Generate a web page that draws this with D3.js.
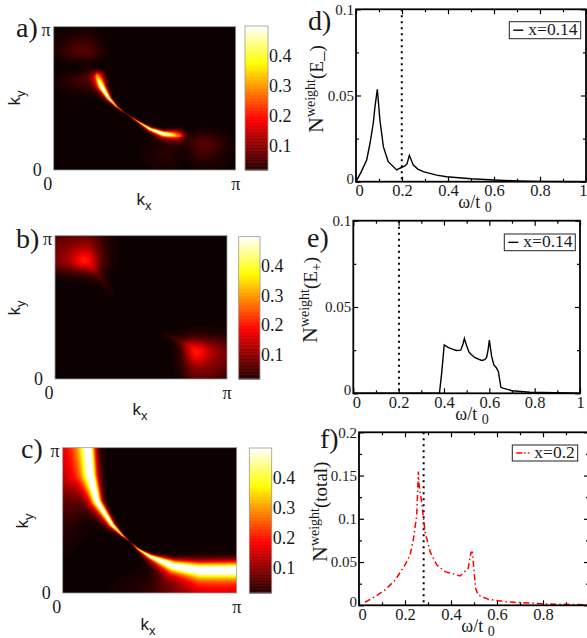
<!DOCTYPE html>
<html>
<head>
<meta charset="utf-8">
<script src="https://d3js.org/d3.v7.min.js"></script>
<style>
    html, body { margin: 0; padding: 0; background: #fff; overflow: hidden; }
    text { font-family: "Liberation Serif", serif; fill: #1a1a1a; }
    .sans { font-family: "Liberation Sans", sans-serif; }
</style>
</head>
<body>
<svg id="chart" width="587" height="638">
    <defs>
        <filter id="soft" x="0" y="0" width="1" height="1"><feGaussianBlur stdDeviation="0.55"/></filter>
    </defs>
</svg>
<script>
// panel a, bright arc (k in units of pi)
var aRidgeKx = [0.236, 0.258, 0.30, 0.346, 0.401, 0.456, 0.529, 0.602, 0.676];
var aRidgeKy = [0.651, 0.581, 0.50, 0.442, 0.391, 0.344, 0.284, 0.249, 0.237];
var aRidgePeak = [0.30, 0.56, 0.54, 0.34, 0.12, 0.34, 0.52, 0.58, 0.30];
var aRidgeOuter = [0.022, 0.016, 0.009, 0.004, 0.0015, 0.004, 0.009, 0.016, 0.024];
var aRidgeInner = [0.024, 0.018, 0.010, 0.004, 0.0015, 0.004, 0.010, 0.016, 0.026];
// panel a, faint patches
var aLobeKx = [0.172, 0.82, 0.16, 0.62];
var aLobeKy = [0.826, 0.188, 0.63, 0.12];
var aLobePeak = [0.055, 0.055, 0.035, 0.022];
var aLobeLeft = [0.10, 0.05, 0.08, 0.08];
var aLobeRight = [0.06, 0.08, 0.06, 0.04];
var aLobeDown = [0.04, 0.09, 0.06, 0.07];
var aLobeUp = [0.08, 0.05, 0.035, 0.05];

// panel b has only two red patches and their tails
var bRidgeKx = [0.22, 0.33];
var bRidgeKy = [0.76, 0.60];
var bRidgePeak = [0.06, 0.008];
var bRidgeOuter = [0.03, 0.015];
var bRidgeInner = [0.03, 0.015];
var bRidge2Kx = [0.77, 0.62];
var bRidge2Ky = [0.25, 0.33];
var bRidge2Peak = [0.06, 0.008];
var bRidge2Outer = [0.03, 0.015];
var bRidge2Inner = [0.03, 0.015];
// each patch is a broad glow with a small bright core
var bLobeKx = [0.174, 0.824, 0.174, 0.824];
var bLobeKy = [0.83, 0.19, 0.83, 0.19];
var bLobePeak = [0.12, 0.12, 0.085, 0.085];
var bLobeLeft = [0.20, 0.055, 0.05, 0.045];
var bLobeRight = [0.075, 0.18, 0.045, 0.05];
var bLobeDown = [0.06, 0.16, 0.045, 0.05];
var bLobeUp = [0.17, 0.07, 0.05, 0.045];

// panel c, wide arc plus the red glow along the left and bottom edges
var cRidgeKx = [0.141, 0.153, 0.195, 0.282, 0.34, 0.387, 0.435, 0.502, 0.636, 0.789, 1];
var cRidgeKy = [1, 0.812, 0.628, 0.468, 0.40, 0.353, 0.30, 0.25, 0.181, 0.151, 0.151];
var cRidgePeak = [0.58, 0.58, 0.58, 0.54, 0.42, 0.12, 0.42, 0.54, 0.58, 0.58, 0.58];
var cRidgeOuter = [0.062, 0.055, 0.032, 0.015, 0.005, 0.0015, 0.005, 0.015, 0.045, 0.062, 0.062];
var cRidgeInner = [0.03, 0.03, 0.02, 0.012, 0.005, 0.0015, 0.005, 0.012, 0.032, 0.043, 0.045];
var cLobeKx = [0, 0.9];
var cLobeKy = [0.9, 0];
var cLobePeak = [0.11, 0.11];
var cLobeLeft = [0.1, 0.25];
var cLobeRight = [0.09, 0.4];
var cLobeDown = [0.25, 0.1];
var cLobeUp = [0.4, 0.09];

var colorbarTicks = [0.1, 0.2, 0.3, 0.4];

// right hand curves
var dOmega = [0, 0.02, 0.0465, 0.061, 0.075, 0.0826, 0.0927, 0.104, 0.119, 0.14, 0.177, 0.191, 0.213, 0.222, 0.232, 0.249, 0.27, 0.293, 0.35, 0.394, 0.5, 0.6, 0.7, 0.8, 1];
var dWeight = [0, 0.005, 0.0126, 0.0223, 0.0339, 0.0435, 0.0536, 0.0358, 0.0203, 0.0116, 0.0068, 0.0078, 0.0091, 0.0105, 0.0153, 0.0097, 0.0072, 0.0058, 0.0038, 0.0029, 0.0017, 0.001, 0.0005, 0.0002, 0];
var eOmega = [0, 0.38, 0.39, 0.401, 0.42, 0.44, 0.455, 0.474, 0.485, 0.49, 0.50, 0.51, 0.52, 0.537, 0.566, 0.58, 0.588, 0.595, 0.60, 0.61, 0.62, 0.63, 0.64, 0.651, 0.66, 0.70, 0.78, 1];
var eWeight = [0, 0, 0.012, 0.028, 0.0265, 0.0255, 0.0248, 0.025, 0.029, 0.0318, 0.0275, 0.024, 0.0225, 0.0206, 0.019, 0.0195, 0.0208, 0.0255, 0.0309, 0.0215, 0.0164, 0.015, 0.0125, 0.0035, 0.003, 0.0015, 0.0006, 0];
var fOmega = [0.026, 0.07, 0.113, 0.157, 0.2, 0.222, 0.236, 0.251, 0.258, 0.262, 0.27, 0.28, 0.287, 0.309, 0.338, 0.374, 0.439, 0.475, 0.487, 0.493, 0.507, 0.518, 0.562, 0.635, 0.8, 1];
var fWeight = [0.0035, 0.01, 0.0177, 0.029, 0.0466, 0.058, 0.0755, 0.104, 0.1545, 0.137, 0.124, 0.101, 0.085, 0.062, 0.0466, 0.0389, 0.0339, 0.0428, 0.0613, 0.0613, 0.0197, 0.0119, 0.0069, 0.0042, 0.0017, 0.0005];

var svg = d3.select("#chart");

var hot = d3.scaleLinear()
    .domain([0, 0.1875, 0.375, 0.5])
    .range(["#0c0000", "#ff0000", "#ffff00", "#ffffff"])
    .clamp(true);

function ridgeValue(r, px, py) {
    var best = Infinity, value = 0;
    for (var i = 0; i < r.kx.length - 1; i++) {
        var dx = r.kx[i + 1] - r.kx[i],
            dy = r.ky[i + 1] - r.ky[i],
            t = ((px - r.kx[i]) * dx + (py - r.ky[i]) * dy) / (dx * dx + dy * dy);
        t = Math.max(0, Math.min(1, t));
        var qx = px - (r.kx[i] + t * dx),
            qy = py - (r.ky[i] + t * dy),
            d = Math.sqrt(qx * qx + qy * qy);
        if (d < best) {
            best = d;
            var peak = r.peak[i] + t * (r.peak[i + 1] - r.peak[i]);
            // towards k=0 the band has a long tail, on the other side it drops fast
            if (dx * qy - dy * qx < 0) {
                value = peak * Math.exp(-d / (r.outer[i] + t * (r.outer[i + 1] - r.outer[i])));
            } else {
                var s = r.inner[i] + t * (r.inner[i + 1] - r.inner[i]);
                value = peak * Math.exp(-d * d / (2 * s * s));
            }
        }
    }
    return value;
}

function lobeValue(l, i, px, py) {
    var sx = px < l.kx[i] ? l.left[i] : l.right[i],
        sy = py < l.ky[i] ? l.down[i] : l.up[i],
        ux = (px - l.kx[i]) / sx,
        uy = (py - l.ky[i]) / sy;
    return l.peak[i] * Math.exp(-(ux * ux + uy * uy) / 2);
}

function heatmap(p) {
    var x = d3.scaleLinear().domain([0, 1]).range([p.x0, p.x1]),
        y = d3.scaleLinear().domain([0, 1]).range([p.y1, p.y0]),
        w = Math.round(p.x1 - p.x0),
        h = Math.round(p.y1 - p.y0);

    var canvas = document.createElement("canvas");
    canvas.width = w;
    canvas.height = h;
    var ctx = canvas.getContext("2d"),
        img = ctx.createImageData(w, h);

    for (var j = 0; j < h; j++) {
        for (var i = 0; i < w; i++) {
            var kx = x.invert(p.x0 + i + 0.5),
                ky = y.invert(p.y0 + j + 0.5),
                v = 0;
            p.ridges.forEach(function (r) { v = Math.max(v, ridgeValue(r, kx, ky)); });
            if (p.lobes) {
                for (var n = 0; n < p.lobes.kx.length; n++) v += lobeValue(p.lobes, n, kx, ky);
            }
            var c = d3.rgb(hot(v)), k = (j * w + i) * 4;
            img.data[k] = c.r;
            img.data[k + 1] = c.g;
            img.data[k + 2] = c.b;
            img.data[k + 3] = 255;
        }
    }
    ctx.putImageData(img, 0, 0);

    svg.append("image")
        .attr("x", p.x0)
        .attr("y", p.y0)
        .attr("width", p.x1 - p.x0)
        .attr("height", p.y1 - p.y0)
        .attr("preserveAspectRatio", "none")
        .attr("filter", "url(#soft)")
        .attr("href", canvas.toDataURL());

    svg.append("rect")
        .attr("x", p.x0)
        .attr("y", p.y0)
        .attr("width", p.x1 - p.x0)
        .attr("height", p.y1 - p.y0)
        .style("fill", "none")
        .style("stroke", "#999")
        .style("stroke-width", 0.8);

    // corner labels sit a little off the corners in the original
    var corner = [
        {t: "0", px: x(0) - 6, py: p.y1 + 20, a: "middle"},
        {t: "\u03c0", px: x(1), py: p.y1 + 20, a: "middle"},
        {t: "0", px: x(0) - 12, py: y(0) + 6, a: "end"},
        {t: "\u03c0", px: x(0) - 3, py: y(1) + 9, a: "end"}
    ];
    svg.selectAll(null).data(corner).enter().append("text")
        .attr("x", function (d) { return d.px; })
        .attr("y", function (d) { return d.py; })
        .attr("text-anchor", function (d) { return d.a; })
        .style("font-size", "18px")
        .text(function (d) { return d.t; });

    var xl = svg.append("text")
        .attr("class", "sans")
        .attr("x", p.kxX)
        .attr("y", p.kxY)
        .attr("text-anchor", "middle")
        .style("font-size", "17px");
    xl.append("tspan").text("k");
    xl.append("tspan").attr("dy", 5).style("font-size", "13px").text("x");

    var yl = svg.append("text")
        .attr("class", "sans")
        .attr("transform", "translate(" + p.kyX + "," + p.kyY + ") rotate(-90)")
        .attr("text-anchor", "middle")
        .style("font-size", "17px");
    yl.append("tspan").text("k");
    yl.append("tspan").attr("dy", 5).style("font-size", "13px").text("y");

    // colour bar
    var cb = d3.scaleLinear().domain([0.017, 0.5]).range([p.y1, p.cbTop]);
    svg.selectAll(null).data(d3.range(0.017, 0.5, 0.002)).enter().append("rect")
        .attr("x", p.cb0)
        .attr("width", p.cb1 - p.cb0)
        .attr("y", function (d) { return cb(d + 0.002); })
        .attr("height", function (d) { return cb(d) - cb(d + 0.002) + 0.5; })
        .style("fill", function (d) { return hot(d); });
    svg.append("rect")
        .attr("x", p.cb0)
        .attr("y", p.cbTop)
        .attr("width", p.cb1 - p.cb0)
        .attr("height", p.y1 - p.cbTop)
        .style("fill", "none")
        .style("stroke", "#999")
        .style("stroke-width", 0.8);

    var cbAxis = svg.append("g")
        .attr("transform", "translate(" + p.cb1 + ",0)")
        .call(d3.axisRight(cb).tickValues(colorbarTicks).tickSize(0).tickPadding(1).tickFormat(d3.format(".1f")));
    cbAxis.select(".domain").remove();
    cbAxis.selectAll("text")
        .style("font-family", "'Liberation Serif', serif")
        .style("font-size", "18px");
}

function curvePanel(p) {
    var x = d3.scaleLinear().domain([0, 1]).range([p.x0, p.x1]),
        y = d3.scaleLinear().domain([0, p.yMax]).range([p.y1, p.y0]);

    var xMajor = [0, 0.2, 0.4, 0.6, 0.8, 1],
        xMinor = [0.1, 0.3, 0.5, 0.7, 0.9],
        yMajor = p.yMajor,
        yMinor = p.yMinor;

    function fmt(d) { return d === 0 ? "0" : String(d); }

    function styleAxis(g) {
        g.select(".domain").remove();
        g.selectAll("line").style("stroke", "#000").style("stroke-width", 1.2);
        g.selectAll("text").style("font-family", "'Liberation Serif', serif");
    }

    // major ticks with labels on bottom and left, mirrored without labels
    var bottom = svg.append("g").attr("transform", "translate(0," + p.y1 + ")")
        .call(d3.axisBottom(x).tickValues(xMajor).tickSize(-5).tickPadding(3).tickFormat(fmt)).call(styleAxis);
    bottom.selectAll("text").style("font-size", "16.5px");
    // first label moved off the y axis zero, last label pulled in at the page edge
    bottom.selectAll("text").filter(function (d) { return d === 0; }).attr("dx", 3);
    var last = bottom.selectAll("text").filter(function (d) { return d === 1; });
    if (p.x1 > 587) last.remove();
    else if (p.x1 > 583) last.attr("text-anchor", "end").attr("dx", 1);

    svg.append("g").attr("transform", "translate(0," + p.y1 + ")")
        .call(d3.axisBottom(x).tickValues(xMinor).tickSize(-3).tickFormat("")).call(styleAxis);
    svg.append("g").attr("transform", "translate(0," + p.y0 + ")")
        .call(d3.axisTop(x).tickValues(xMajor).tickSize(-5).tickFormat("")).call(styleAxis);
    svg.append("g").attr("transform", "translate(0," + p.y0 + ")")
        .call(d3.axisTop(x).tickValues(xMinor).tickSize(-3).tickFormat("")).call(styleAxis);
    var left = svg.append("g").attr("transform", "translate(" + p.x0 + ",0)")
        .call(d3.axisLeft(y).tickValues(yMajor).tickSize(-5).tickPadding(2).tickFormat(fmt)).call(styleAxis);
    left.selectAll("text").style("font-size", "15px");
    left.selectAll("text").filter(function (d) { return d === 0; }).attr("dy", "0.1em");
    svg.append("g").attr("transform", "translate(" + p.x0 + ",0)")
        .call(d3.axisLeft(y).tickValues(yMinor).tickSize(-3).tickFormat("")).call(styleAxis);
    svg.append("g").attr("transform", "translate(" + p.x1 + ",0)")
        .call(d3.axisRight(y).tickValues(yMajor).tickSize(-5).tickFormat("")).call(styleAxis);
    svg.append("g").attr("transform", "translate(" + p.x1 + ",0)")
        .call(d3.axisRight(y).tickValues(yMinor).tickSize(-3).tickFormat("")).call(styleAxis);

    svg.append("line")
        .attr("x1", x(p.mark)).attr("x2", x(p.mark))
        .attr("y1", p.y0).attr("y2", p.y1)
        .style("stroke", "#000")
        .style("stroke-width", 2)
        .style("stroke-dasharray", "2 4");

    var line = d3.line()
        .x(function (d) { return x(d[0]); })
        .y(function (d) { return y(d[1]); });

    svg.append("path")
        .datum(d3.zip(p.omega, p.weight))
        .attr("d", line)
        .style("fill", "none")
        .style("stroke", p.color)
        .style("stroke-width", p.lineWidth)
        .style("stroke-dasharray", p.dash);

    svg.append("rect")
        .attr("x", p.x0)
        .attr("y", p.y0)
        .attr("width", p.x1 - p.x0)
        .attr("height", p.y1 - p.y0)
        .style("fill", "none")
        .style("stroke", "#000")
        .style("stroke-width", 1.8);

    // legend
    svg.append("rect")
        .attr("x", p.lg[0]).attr("y", p.lg[1])
        .attr("width", p.lg[2]).attr("height", p.lg[3])
        .style("fill", "#fff")
        .style("stroke", "#222")
        .style("stroke-width", 1);
    svg.append("line")
        .attr("x1", p.lg[0] + 4).attr("x2", p.lg[0] + p.lgLine)
        .attr("y1", p.lg[1] + p.lg[3] / 2).attr("y2", p.lg[1] + p.lg[3] / 2)
        .style("stroke", p.color)
        .style("stroke-width", p.lineWidth)
        .style("stroke-dasharray", p.lgDash);
    svg.append("text")
        .attr("x", p.lg[0] + p.lgLine + 5)
        .attr("y", p.lg[1] + p.lg[3] / 2 + 5)
        .style("font-size", "17.5px")
        .text(p.legend);

    // x title
    var xt = svg.append("text")
        .attr("x", p.xtX)
        .attr("y", p.xtY)
        .attr("text-anchor", "middle")
        .style("font-size", "18px");
    xt.append("tspan").text("\u03c9/t ");
    xt.append("tspan").attr("dy", 4).style("font-size", "14px").text("0");

    // y title, N with a superscript and the bracket behind it
    var yt = svg.append("text")
        .attr("transform", "translate(" + p.ytX + "," + p.ytY + ") rotate(-90)")
        .style("font-size", "22px");
    yt.append("tspan").text("N");
    yt.append("tspan").attr("dy", -8).style("font-size", "14px").text("weight");
    yt.append("tspan").attr("dy", 8).style("font-size", "19px").text("(" + p.ytMain);
    if (p.ytSub) yt.append("tspan").attr("dy", 4).style("font-size", "14px").text(p.ytSub);
    yt.append("tspan").attr("dy", p.ytSub ? -4 : 0).style("font-size", "19px").text(")");
}

heatmap({
    x0: 53.7, x1: 235.7, y0: 26.7, y1: 170, cb0: 245, cb1: 268, cbTop: 26,
    kxX: 144, kxY: 205, kyX: 20, kyY: 98,
    ridges: [{kx: aRidgeKx, ky: aRidgeKy, peak: aRidgePeak, outer: aRidgeOuter, inner: aRidgeInner}],
    lobes: {kx: aLobeKx, ky: aLobeKy, peak: aLobePeak, left: aLobeLeft, right: aLobeRight, down: aLobeDown, up: aLobeUp}
});

heatmap({
    x0: 55, x1: 227, y0: 235.7, y1: 379, cb0: 238.7, cb1: 260, cbTop: 236.7,
    kxX: 140, kxY: 415, kyX: 20, kyY: 308,
    ridges: [
        {kx: bRidgeKx, ky: bRidgeKy, peak: bRidgePeak, outer: bRidgeOuter, inner: bRidgeInner},
        {kx: bRidge2Kx, ky: bRidge2Ky, peak: bRidge2Peak, outer: bRidge2Outer, inner: bRidge2Inner}
    ],
    lobes: {kx: bLobeKx, ky: bLobeKy, peak: bLobePeak, left: bLobeLeft, right: bLobeRight, down: bLobeDown, up: bLobeUp}
});

heatmap({
    x0: 62.7, x1: 236.7, y0: 447.7, y1: 593, cb0: 249.3, cb1: 271.7, cbTop: 448,
    kxX: 148, kxY: 630, kyX: 28, kyY: 521,
    ridges: [{kx: cRidgeKx, ky: cRidgeKy, peak: cRidgePeak, outer: cRidgeOuter, inner: cRidgeInner}],
    lobes: {kx: cLobeKx, ky: cLobeKy, peak: cLobePeak, left: cLobeLeft, right: cLobeRight, down: cLobeDown, up: cLobeUp}
});

curvePanel({
    x0: 356, x1: 586, y0: 9.3, y1: 181.7, yMax: 0.1,
    yMajor: [0, 0.05, 0.1], yMinor: [0.025, 0.075],
    omega: dOmega, weight: dWeight, mark: 0.199,
    color: "#000", lineWidth: 1.4, dash: null,
    lg: [509.3, 21.7, 71.4, 17], lgLine: 14, lgDash: null, legend: "x=0.14",
    xtX: 475, xtY: 208, ytX: 323, ytY: 133, ytMain: "E_", ytSub: null
});

curvePanel({
    x0: 353.3, x1: 580, y0: 220.7, y1: 393.3, yMax: 0.1,
    yMajor: [0, 0.05, 0.1], yMinor: [0.025, 0.075],
    omega: eOmega, weight: eWeight, mark: 0.2015,
    color: "#000", lineWidth: 1.4, dash: null,
    lg: [504.3, 234, 71, 16.7], lgLine: 14, lgDash: null, legend: "x=0.14",
    xtX: 472, xtY: 420, ytX: 317, ytY: 343, ytMain: "E", ytSub: "+"
});

curvePanel({
    x0: 359, x1: 589, y0: 432.3, y1: 605.3, yMax: 0.2,
    yMajor: [0, 0.05, 0.1, 0.15, 0.2], yMinor: [0.025, 0.075, 0.125, 0.175],
    omega: fOmega, weight: fWeight, mark: 0.281,
    color: "#f00", lineWidth: 1.5, dash: "6 3 1.5 3",
    lg: [512.3, 445, 65.4, 16], lgLine: 17, lgDash: "6 2 1.5 2", legend: "x=0.2",
    xtX: 478, xtY: 632, ytX: 327, ytY: 562, ytMain: "total", ytSub: null
});

// panel letters
var panelLetters = ["a)", "b)", "c)", "d)", "e)", "f)"];
var letterX = [16, 16, 21, 308, 307, 320];
var letterY = [37, 248, 458, 30, 247, 448];
svg.selectAll(null).data(panelLetters).enter().append("text")
    .attr("x", function (d, i) { return letterX[i]; })
    .attr("y", function (d, i) { return letterY[i]; })
    .style("font-size", "28px")
    .text(function (d) { return d; });
</script>
</body>
</html>
